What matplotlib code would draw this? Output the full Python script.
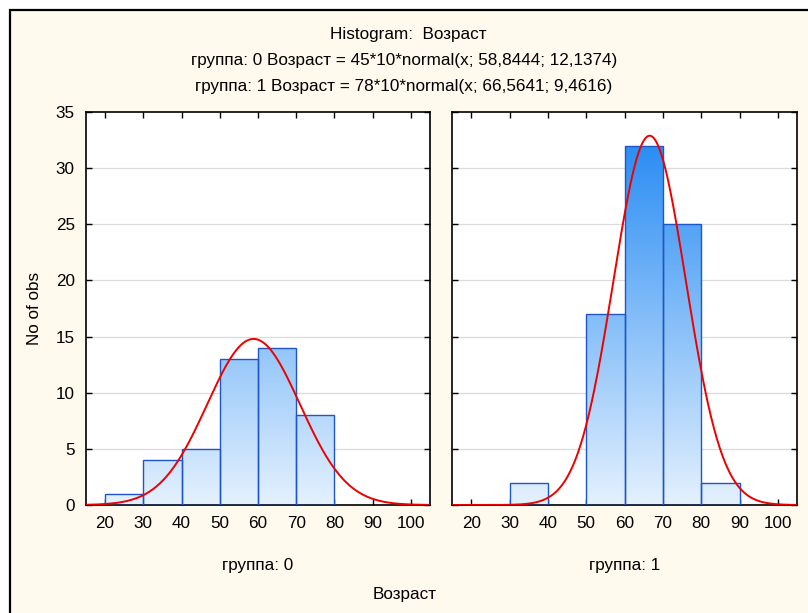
import numpy as np
import matplotlib
matplotlib.use("Agg")
import matplotlib.pyplot as plt
from matplotlib.colors import LinearSegmentedColormap
from matplotlib.patches import Rectangle

plt.rcParams['font.family'] = ['Liberation Sans', 'DejaVu Sans']

# data
bin_edges = [20, 30, 40, 50, 60, 70, 80, 90, 100]
counts_g0 = [1, 4, 5, 13, 14, 8, 0, 0]
counts_g1 = [0, 2, 0, 17, 32, 25, 2, 0]
groups = ["группа: 0", "группа: 1"]
n_obs = [45, 78]
means = [58.8444, 66.5641]
sds = [12.1374, 9.4616]
xticks = [20, 30, 40, 50, 60, 70, 80, 90, 100]
yticks = [0, 5, 10, 15, 20, 25, 30, 35]

bg = "#FFF9EE"
cmap = LinearSegmentedColormap.from_list("blu", ["#E4F1FE", "#1A84F2"])
fs = 12.3

fig = plt.figure(figsize=(8.08, 6.13), dpi=100)
fig.patch.set_facecolor("white")
fig.add_artist(Rectangle((9.5/808, -0.05), 1.1, 1 - 9.5/613 + 0.05, transform=fig.transFigure,
                         facecolor=bg, edgecolor="black", linewidth=1.6, zorder=0))

ax1 = fig.add_axes([86/808, 1 - 505/613, 344/808, 393/613])
ax2 = fig.add_axes([452/808, 1 - 505/613, 345/808, 393/613])

for i, (ax, counts) in enumerate(zip([ax1, ax2], [counts_g0, counts_g1])):
    ax.set_facecolor("white")
    ax.set_xlim(15, 105)
    ax.set_ylim(0, 35)
    for y in yticks[1:-1]:
        ax.axhline(y, color="#DADADA", linewidth=0.9, zorder=0)
    grad = np.linspace(0, 1, 256).reshape(-1, 1)
    for left, right, c in zip(bin_edges[:-1], bin_edges[1:], counts):
        if c == 0:
            continue
        rect = Rectangle((left, 0), right - left, c, facecolor="none",
                         edgecolor="#1E56C8", linewidth=1.0, zorder=3)
        ax.add_patch(rect)
        im = ax.imshow(grad, cmap=cmap, origin="lower", aspect="auto",
                       extent=(15, 105, 0, 35), zorder=2, interpolation="bilinear")
        im.set_clip_path(rect)
    xs = np.linspace(15, 105, 500)
    ys = n_obs[i] * 10 * np.exp(-0.5 * ((xs - means[i]) / sds[i]) ** 2) / (sds[i] * np.sqrt(2 * np.pi))
    ax.plot(xs, ys, color="#EE0000", linewidth=1.4, zorder=4)
    ax.set_xlim(15, 105)
    ax.set_ylim(0, 35)
    ax.set_xticks(xticks)
    ax.set_yticks(yticks)
    ax.tick_params(direction="in", top=True, right=True, length=4, width=1,
                   labelsize=fs, pad=8)
    for s in ax.spines.values():
        s.set_linewidth(1.2)
    ax.text(0.5, -0.153, groups[i], transform=ax.transAxes, ha="center", va="center", fontsize=fs)

ax2.tick_params(labelleft=False)
ax1.set_ylabel("No of obs", fontsize=fs, labelpad=10)

fig.text(408/808, 1 - 35/613, "Histogram:  Возраст", ha="center", va="center", fontsize=fs)
fig.text(404/808, 1 - 61/613, "группа: 0 Возраст = 45*10*normal(x; 58,8444; 12,1374)",
         ha="center", va="center", fontsize=fs)
fig.text(404/808, 1 - 86/613, "группа: 1 Возраст = 78*10*normal(x; 66,5641; 9,4616)",
         ha="center", va="center", fontsize=fs)
fig.text(405/808, 1 - 594/613, "Возраст", ha="center", va="center", fontsize=fs)

fig.savefig("out.png", dpi=100, facecolor=fig.get_facecolor())
